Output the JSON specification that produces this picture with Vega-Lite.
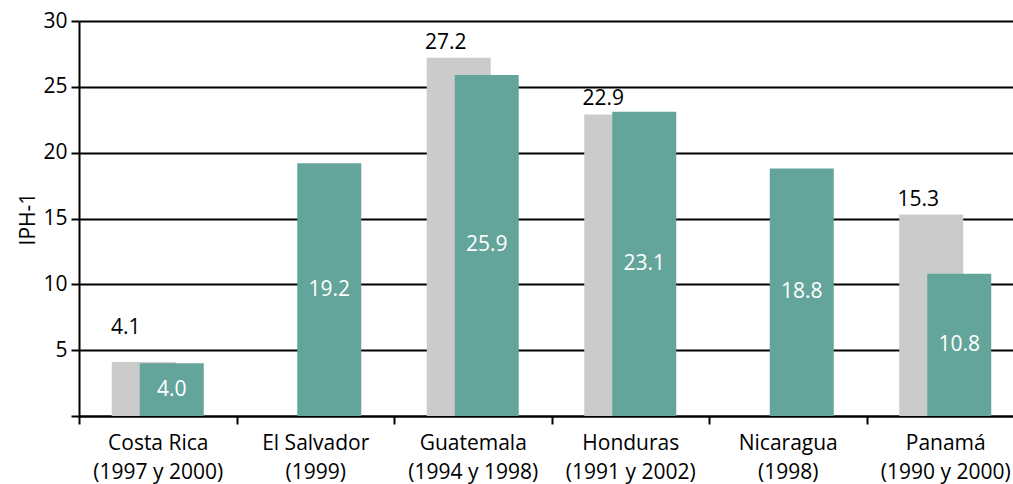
{
  "$schema": "https://vega.github.io/schema/vega-lite/v6.json",
  "width": 934,
  "height": 395,
  "autosize": {"type": "none"},
  "padding": {"left": 79, "top": 21, "right": 0, "bottom": 68},
  "background": "white",
  "config": {
    "view": {"stroke": null},
    "font": "Open Sans",
    "text": {"font": "Open Sans"}
  },
  "data": {
    "values": [
      {"pais": "Costa Rica\n(1997 y 2000)", "serie": "anterior", "valor": 4.1},
      {"pais": "Costa Rica\n(1997 y 2000)", "serie": "reciente", "valor": 4.0},
      {"pais": "El Salvador\n(1999)", "serie": "reciente", "valor": 19.2},
      {"pais": "Guatemala\n(1994 y 1998)", "serie": "anterior", "valor": 27.2},
      {"pais": "Guatemala\n(1994 y 1998)", "serie": "reciente", "valor": 25.9},
      {"pais": "Honduras\n(1991 y 2002)", "serie": "anterior", "valor": 22.9},
      {"pais": "Honduras\n(1991 y 2002)", "serie": "reciente", "valor": 23.1},
      {"pais": "Nicaragua\n(1998)", "serie": "reciente", "valor": 18.8},
      {"pais": "Panamá\n(1990 y 2000)", "serie": "anterior", "valor": 15.3},
      {"pais": "Panamá\n(1990 y 2000)", "serie": "reciente", "valor": 10.8}
    ]
  },
  "encoding": {
    "x": {
      "field": "pais",
      "type": "nominal",
      "sort": ["Costa Rica\n(1997 y 2000)", "El Salvador\n(1999)", "Guatemala\n(1994 y 1998)", "Honduras\n(1991 y 2002)", "Nicaragua\n(1998)", "Panamá\n(1990 y 2000)"],
      "scale": {"range": [0, 945], "paddingInner": 0, "paddingOuter": 0},
      "axis": {
        "title": null,
        "labelAngle": 0,
        "labelExpr": "split(datum.label, '\\n')",
        "tickBand": "extent",
        "tickSize": 8,
        "tickWidth": 2,
        "tickColor": "black",
        "domainColor": "black",
        "domainWidth": 2,
        "labelFontSize": 21,
        "labelColor": "black",
        "labelLineHeight": 29,
        "labelPadding": 8,
        "grid": false
      }
    }
  },
  "layer": [
    {
      "transform": [{"filter": "datum.serie == 'anterior'"}],
      "mark": {"type": "bar", "width": 64, "xOffset": -14, "color": "#cbcbcb"},
      "encoding": {
        "y": {
          "field": "valor",
          "type": "quantitative",
          "scale": {"domain": [0, 30], "nice": false},
          "axis": {
            "values": [0, 5, 10, 15, 20, 25, 30],
            "labelExpr": "datum.value == 0 ? '' : datum.label",
            "grid": true,
            "gridColor": "black",
            "gridWidth": 2,
            "gridOpacity": 1,
            "domainColor": "black",
            "domainWidth": 2,
            "tickColor": "black",
            "tickWidth": 2,
            "tickSize": 8,
            "labelFontSize": 21,
            "labelColor": "black",
            "labelPadding": 4,
            "title": "IPH-1",
            "titleFontSize": 21,
            "titleFontWeight": "normal",
            "titleColor": "black",
            "titlePadding": 4
          }
        }
      }
    },
    {
      "transform": [{"filter": "datum.serie == 'reciente'"}],
      "mark": {"type": "bar", "width": 64, "xOffset": 14, "color": "#64a59b"},
      "encoding": {
        "y": {
          "field": "valor",
          "type": "quantitative",
          "scale": {"domain": [0, 30], "nice": false},
          "axis": null
        }
      }
    },
    {
      "transform": [{"filter": "datum.serie == 'anterior' && datum.valor > 5"}],
      "mark": {"type": "text", "dx": -27, "dy": -5, "baseline": "bottom", "align": "center", "fontSize": 21, "color": "black"},
      "encoding": {
        "y": {
          "field": "valor",
          "type": "quantitative",
          "scale": {"domain": [0, 30], "nice": false},
          "axis": null
        },
        "text": {"field": "valor", "type": "quantitative", "format": ".1f"}
      }
    },
    {
      "transform": [{"filter": "datum.serie == 'anterior' && datum.valor <= 5"}],
      "mark": {"type": "text", "dx": -32, "dy": -24, "baseline": "bottom", "align": "center", "fontSize": 21, "color": "black"},
      "encoding": {
        "y": {
          "field": "valor",
          "type": "quantitative",
          "scale": {"domain": [0, 30], "nice": false},
          "axis": null
        },
        "text": {"field": "valor", "type": "quantitative", "format": ".1f"}
      }
    },
    {
      "transform": [{"filter": "datum.serie == 'reciente'"}],
      "mark": {"type": "text", "dx": 14, "baseline": "middle", "align": "center", "fontSize": 21, "color": "white"},
      "encoding": {
        "y": {
          "field": "valor",
          "type": "quantitative",
          "scale": {"domain": [0, 60], "nice": false},
          "axis": null
        },
        "text": {"field": "valor", "type": "quantitative", "format": ".1f"}
      }
    }
  ],
  "resolve": {"scale": {"y": "independent"}}
}
